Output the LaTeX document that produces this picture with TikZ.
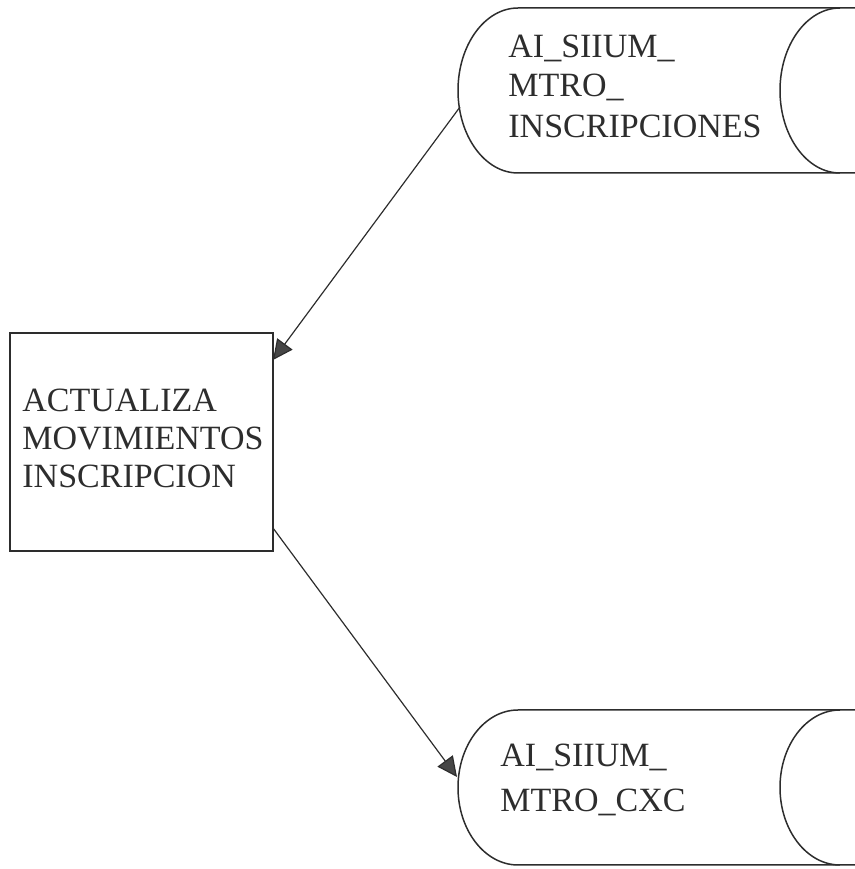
\documentclass[tikz,border=0pt]{standalone}
\usepackage{fontspec}
\setmainfont{Liberation Serif}
\usetikzlibrary{arrows.meta}
\definecolor{ink}{RGB}{45,45,45}
\definecolor{headc}{RGB}{70,70,70}
\tikzset{
  shapeline/.style={draw=ink, line width=0.75pt},
  lbl/.style={anchor=base west, inner sep=0pt, text=ink, font=\fontsize{17}{20}\selectfont},
  flow/.style={draw=ink, line width=0.6pt, -{Triangle[length=10pt,width=9.5pt,fill=headc]}}
}
\begin{document}
\begin{tikzpicture}[x=0.5pt,y=0.5pt]
\useasboundingbox (0,0) rectangle (855,869);
% process box
\node[shapeline, rectangle, minimum width=131.5pt, minimum height=109pt, inner sep=0pt] (act) at (141.5,427) {};
\node[lbl] (act1) at (22,457) {ACTUALIZA};
\node[lbl] (act2) at (22,419) {MOVIMIENTOS};
\node[lbl] (act3) at (22,381) {INSCRIPCION};
% top data store
\node[inner sep=0pt, minimum width=198.5pt, minimum height=82.5pt] (st1) at (656.5,778.5) {};
\draw[shapeline] (855,861) -- (518,861) arc[start angle=90, end angle=270, x radius=30pt, y radius=41.25pt] -- (855,696);
\draw[shapeline] (840,861) arc[start angle=90, end angle=270, x radius=30pt, y radius=41.25pt];
\node[lbl] (st1a) at (508,811) {AI\_SIIUM\_};
\node[lbl] (st1b) at (508,772) {MTRO\_};
\node[lbl] (st1c) at (508,731) {INSCRIPCIONES};
% bottom data store
\node[inner sep=0pt, minimum width=198.5pt, minimum height=77.5pt] (st2) at (656.5,81.5) {};
\draw[shapeline] (855,159) -- (518,159) arc[start angle=90, end angle=270, x radius=30pt, y radius=38.75pt] -- (855,4);
\draw[shapeline] (840,159) arc[start angle=90, end angle=270, x radius=30pt, y radius=38.75pt];
\node[lbl] (st2a) at (500,102) {AI\_SIIUM\_};
\node[lbl] (st2b) at (500,57) {MTRO\_CXC};
% connector endpoints
\coordinate (st1out) at (460,762);
\coordinate (actin) at (273,509);
\coordinate (actout) at (273,341);
\coordinate (st2in) at (457,92);
\draw[flow] (st1out) -- (actin);
\draw[flow] (actout) -- (st2in);
\end{tikzpicture}
\end{document}
